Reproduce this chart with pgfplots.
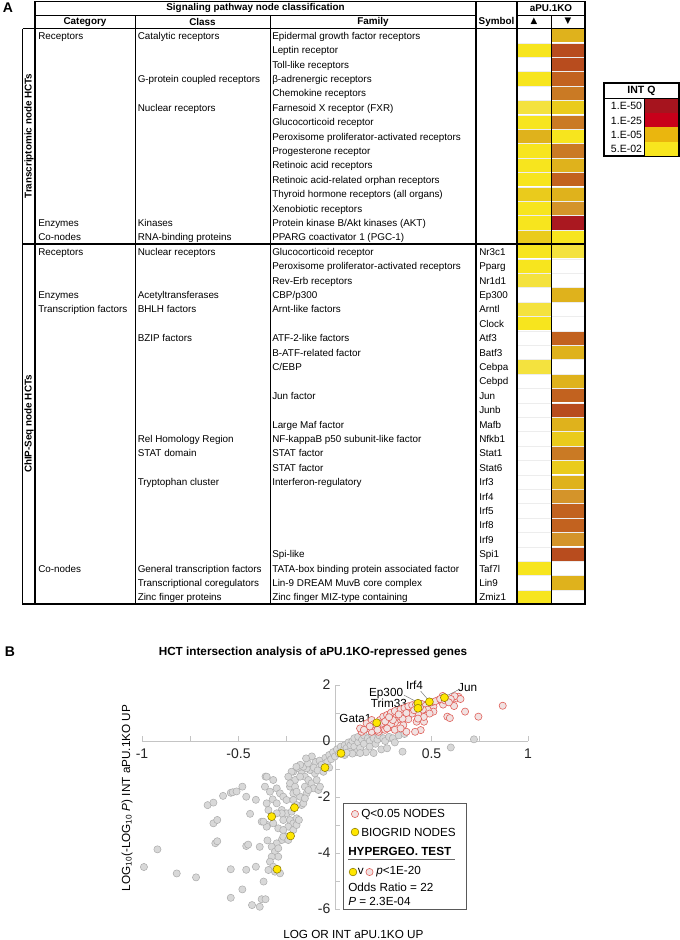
\documentclass[border=0pt]{standalone}
\usepackage{fontspec}
\setmainfont{Liberation Sans}
\newfontfamily\symfont{DejaVu Sans}
\usepackage{pgfplots}
\pgfplotsset{compat=1.18}
\usepackage{pgfplotstable}

\definecolor{cY}{HTML}{F7E51E}
\definecolor{cYL}{HTML}{F4E23E}
\definecolor{cYG}{HTML}{EACB1C}
\definecolor{cG}{HTML}{DFB21C}
\definecolor{cOG}{HTML}{D4942A}
\definecolor{cO}{HTML}{CA7A24}
\definecolor{cR}{HTML}{C2621F}
\definecolor{cRB}{HTML}{B84C1E}
\definecolor{cDR}{HTML}{AA1820}
\definecolor{q50}{HTML}{A6141E}
\definecolor{q25}{HTML}{C8001A}
\definecolor{q05}{HTML}{EAB60E}
\definecolor{q02}{HTML}{F8E61E}
\definecolor{axgray}{HTML}{C4C4C4}
\definecolor{ptgray}{HTML}{D8D8D8}
\definecolor{ptedge}{HTML}{ADADAD}
\definecolor{redfill}{HTML}{F1E2E2}
\definecolor{rededge}{HTML}{E0605A}
\definecolor{yelfill}{HTML}{FFE600}
\definecolor{yeledge}{HTML}{8A7800}

\pgfdeclareplotmark{cell}{\pgfpathrectangle{\pgfqpoint{-12.4pt}{-4.95pt}}{\pgfqpoint{24.8pt}{9.9pt}}\pgfusepathqfill}
\pgfdeclareplotmark{lcell}{\pgfpathrectangle{\pgfqpoint{-12.4pt}{-5.35pt}}{\pgfqpoint{24.8pt}{10.7pt}}\pgfusepathqfill}

\newcommand{\tabfont}{\fontsize{7.4}{8.5}\selectfont}
\newcommand{\legfont}{\fontsize{8.8}{10}\selectfont}
\newcommand{\tx}[3]{\node[anchor=base west,inner sep=0pt,font=\tabfont] at (#1,{24.8+14.4*#2}) {#3};}

% heat map cells: column (1 = up, 2 = down), row, colour class
\pgfplotstableread{
col row c
2 1 G
1 2 Y
2 2 RB
2 3 RB
1 4 Y
2 4 R
2 5 O
1 6 YL
2 6 YG
1 7 Y
2 7 O
1 8 G
2 8 Y
1 9 Y
2 9 O
1 10 Y
2 10 G
1 11 Y
2 11 R
1 12 YG
2 12 G
1 13 Y
2 13 OG
1 14 Y
2 14 DR
1 15 YG
2 15 Y
1 16 Y
2 16 YL
1 17 Y
1 18 YL
2 19 G
1 20 YL
1 21 Y
2 22 R
2 23 G
1 24 YL
2 25 G
2 26 R
2 27 RB
2 28 G
2 29 YG
2 30 O
2 31 YG
2 32 G
2 33 OG
2 34 R
2 35 R
2 36 OG
2 37 RB
1 38 Y
2 39 G
1 40 Y
}\heatdata

\pgfplotstableread{
x y
-0.99 -4.50
-0.92 -3.87
-0.82 -4.73
-0.72 -4.87
-0.66 -2.29
-0.63 -2.20
-0.63 -2.94
-0.61 -2.82
-0.62 -3.65
-0.61 -3.58
-0.58 -1.96
-0.54 -1.85
-0.54 -4.58
-0.53 -1.83
-0.51 -1.80
-0.48 -1.63
-0.46 -1.99
-0.44 -2.60
-0.46 -4.60
-0.46 -3.75
-0.45 -3.70
-0.48 -5.30
-0.54 -5.60
-0.41 -2.10
-0.41 -4.49
-0.39 -3.78
-0.43 -5.86
-0.39 -5.92
-0.38 -5.65
-0.36 -5.65
-0.37 -5.02
-0.38 -2.88
-0.36 -1.27
-0.35 -3.00
-0.35 -3.55
-0.354 -1.274
-0.320 -1.393
-0.363 -1.631
-0.337 -1.810
-0.302 -1.691
-0.285 -1.869
-0.323 -2.083
-0.354 -2.226
-0.345 -2.464
-0.302 -2.226
-0.268 -1.988
-0.251 -2.107
-0.276 -2.464
-0.251 -2.583
-0.225 -2.524
-0.268 -2.822
-0.233 -2.822
-0.216 -2.941
-0.199 -2.762
-0.242 -3.060
-0.276 -2.583
-0.302 -2.583
-0.320 -2.941
-0.354 -3.060
-0.371 -2.881
-0.294 -3.119
-0.268 -3.179
-0.251 -3.417
-0.276 -3.536
-0.302 -3.655
-0.328 -3.774
-0.311 -3.952
-0.294 -4.131
-0.328 -4.131
-0.337 -4.310
-0.320 -4.488
-0.311 -4.667
-0.285 -4.726
-0.345 -4.607
-0.294 -3.833
-0.268 -3.417
-0.242 -3.536
-0.216 -3.179
-0.199 -3.000
-0.187 -2.822
-0.173 -2.286
-0.164 -2.226
-0.181 -1.988
-0.216 -1.869
-0.233 -1.631
-0.207 -1.393
-0.216 -1.095
-0.190 -0.976
-0.173 -1.155
-0.156 -1.274
-0.138 -1.393
-0.121 -1.512
-0.112 -1.691
-0.147 -1.869
-0.156 -2.048
-0.086 -1.750
-0.078 -1.631
-0.095 -1.393
-0.104 -1.155
-0.130 -1.036
-0.147 -0.976
-0.164 -0.917
-0.181 -1.274
-0.156 -1.631
-0.138 -1.750
-0.216 -2.107
-0.199 -2.286
-0.225 -1.095
-0.242 -1.274
-0.233 -1.512
-0.207 -1.631
-0.199 -1.810
-0.10 -0.75
-0.08 -0.70
-0.07 -0.85
-0.05 -0.60
-0.04 -0.75
-0.03 -0.50
-0.02 -0.65
-0.01 -0.40
0.00 -0.55
0.01 -0.30
0.02 -0.45
0.03 -0.20
0.04 -0.35
0.05 -0.15
0.05 -0.50
0.06 -0.25
0.07 -0.05
0.08 -0.35
0.08 -0.15
0.09 0.00
0.10 -0.20
0.10 0.10
0.11 -0.40
0.12 -0.05
0.12 0.15
0.13 -0.25
0.14 0.05
0.15 0.20
0.15 -0.10
0.16 -0.40
0.17 0.10
0.18 0.00
0.18 -0.20
0.19 0.25
0.20 0.10
0.20 -0.43
0.21 -0.10
0.22 0.05
0.23 0.20
0.24 -0.30
0.25 0.10
0.26 0.00
0.27 -0.26
0.28 0.15
0.30 0.10
0.31 -0.05
0.33 0.20
0.35 -0.38
0.36 0.25
0.60 -0.23
0.72 0.06
0.13 -0.43
0.09 -0.45
0.06 -0.42
-0.12 -0.55
-0.14 -0.80
-0.15 -0.62
-0.18 -0.85
-0.20 -0.92
-0.11 -0.95
-0.09 -1.05
-0.06 -1.10
-0.03 -0.95
}\graydata

\pgfplotstableread{
x y
0.869 1.26
0.743 0.87
0.674 1.05
0.582 0.87
0.617 1.25
0.56 1.30
0.64 1.58
0.63 1.52
0.62 1.60
0.60 1.50
0.65 1.50
0.558 1.61
0.535 1.46
0.51 1.23
0.51 1.05
0.461 0.69
0.423 0.69
0.444 0.39
0.415 0.33
0.37 0.33
0.354 0.57
0.323 0.75
0.336 0.88
0.379 0.88
0.389 1.10
0.406 1.22
0.367 1.10
0.354 0.99
0.328 1.04
0.302 0.93
0.285 0.81
0.268 0.63
0.25 0.45
0.285 0.49
0.259 0.40
0.225 0.33
0.19 0.33
0.164 0.45
0.138 0.33
0.130 0.45
0.164 0.63
0.19 0.75
0.207 0.51
0.233 0.75
0.25 0.87
0.27 0.93
0.29 1.01
0.31 1.07
0.34 1.13
0.36 1.18
0.38 1.24
0.40 1.28
0.42 1.30
0.45 1.32
0.47 1.26
0.48 1.12
0.455 1.12
0.50 1.38
0.52 1.42
0.545 1.50
0.57 1.45
0.59 1.38
0.49 0.98
0.46 0.86
0.43 0.96
0.40 0.98
0.38 0.78
0.35 0.80
0.31 0.65
0.29 0.60
0.27 0.45
0.31 0.40
0.34 0.45
0.30 0.75
0.24 0.62
0.22 0.55
0.20 0.60
0.18 0.52
0.15 0.40
0.22 0.40
0.26 0.70
0.28 0.85
0.33 0.95
0.37 1.00
0.41 1.10
0.44 1.20
0.595 0.82
0.43 0.80
}\reddata

\pgfplotstableread{
x y
0.567 1.55
0.489 1.40
0.43 1.35
0.43 1.17
0.216 0.65
0.031 -0.44
-0.052 -0.95
-0.21 -2.38
-0.328 -2.70
-0.23 -3.39
-0.30 -4.58
}\yeldata

\begin{document}
\begin{tikzpicture}
\path[use as bounding box] (0,0) rectangle (510pt,-705pt);

% ---------- heat map cells ----------
\begin{axis}[
  at={(387.75pt,-21.375pt)}, anchor=north west,
  scale only axis, width=51pt, height=432pt,
  xmin=0.5, xmax=2.5, ymin=0.5, ymax=40.5, y dir=reverse,
  hide axis, clip=false]
\addplot[scatter, only marks, mark=cell,
  scatter src=explicit symbolic,
  scatter/classes={
    Y={fill=cY,draw=none}, YL={fill=cYL,draw=none}, YG={fill=cYG,draw=none},
    G={fill=cG,draw=none}, OG={fill=cOG,draw=none}, O={fill=cO,draw=none},
    R={fill=cR,draw=none}, RB={fill=cRB,draw=none}, DR={fill=cDR,draw=none}}]
  table[x=col, y=row, meta=c] {\heatdata};
\end{axis}

% ---------- scatter plot ----------
\begin{axis}[
  at={(251.25pt,-555.75pt)}, anchor=origin,
  scale only axis, width=289.5pt, height=168pt,
  xmin=-1, xmax=1, ymin=-6, ymax=2,
  axis lines=middle,
  axis line style={-, draw=axgray, line width=0.6pt},
  xtick={-1,-0.5,0,0.5,1}, xticklabels={-1,-0.5,0,0.5,1},
  minor xtick={-0.75,-0.25,0.25,0.75},
  ytick={-6,-4,-2,0,2}, yticklabels={-6,-4,-2,0,2},
  minor ytick={-5,-3,-1,1},
  tick style={draw=axgray, line width=0.6pt},
  major tick length=4pt, minor tick length=4pt,
  tick align=inside,
  hide obscured x ticks=false, hide obscured y ticks=false,
  ticklabel style={font=\fontsize{10.5}{12}\selectfont, text=black!85},
  x tick label style={yshift=-2pt},
  clip=false]
\addplot[only marks, mark=*, mark size=2.7pt,
  mark options={fill=ptgray, draw=ptedge, line width=0.4pt}] table[x=x,y=y] {\graydata};
\addplot[only marks, mark=*, mark size=2.7pt,
  mark options={fill=redfill, draw=rededge, line width=0.45pt}] table[x=x,y=y] {\reddata};
\addplot[only marks, mark=*, mark size=3pt,
  mark options={fill=yelfill, draw=yeledge, line width=0.4pt}] table[x=x,y=y] {\yeldata};
% point labels
\draw[gray, line width=0.4pt] (0.575,1.60) -- (0.637,1.82);
\node[anchor=west, inner sep=0pt, font=\legfont] at (0.637,1.92) {Jun};
\draw[gray, line width=0.4pt] (0.444,1.78) -- (0.484,1.46);
\node[inner sep=0pt, font=\legfont] at (0.412,1.98) {Irf4};
\draw[gray, line width=0.4pt] (0.357,1.64) -- (0.423,1.40);
\node[anchor=east, inner sep=0pt, font=\legfont] at (0.354,1.70) {Ep300};
\draw[gray, line width=0.4pt] (0.378,1.29) -- (0.423,1.19);
\node[anchor=east, inner sep=0pt, font=\legfont] at (0.374,1.36) {Trim33};
\draw[gray, line width=0.4pt] (0.195,0.75) -- (0.21,0.68);
\node[anchor=east, inner sep=0pt, font=\legfont] at (0.19,0.80) {Gata1};
\end{axis}

% ---------- frame: table, texts, legends (pixel coordinates) ----------
\begin{axis}[
  at={(0pt,0pt)}, anchor=north west,
  scale only axis, width=510pt, height=705pt,
  xmin=0, xmax=680, ymin=0, ymax=940, y dir=reverse,
  hide axis, clip=false]
% row separators in heat columns
\pgfplotsinvokeforeach{1,...,39}{
  \draw[gray!14, line width=0.5pt] (517.5,{28.5+14.4*#1}) -- (584.5,{28.5+14.4*#1});
}
% table rules
\draw[line width=0.55pt] (135,15) -- (135,604);
\draw[line width=0.55pt] (270,15) -- (270,604);
\draw[line width=0.55pt] (551.5,15) -- (551.5,604);
\draw[line width=0.55pt] (35,15) -- (476,15);
\draw[line width=0.55pt] (517,15) -- (585,15);
\draw[line width=0.8pt] (476,1.5) -- (476,604);
\draw[line width=0.8pt] (22.5,28.5) -- (585,28.5);
\draw[line width=1.1pt, line cap=rect] (35,1.5) -- (585,1.5);
\draw[line width=1.1pt] (22.5,28.5) -- (22.5,604);
\draw[line width=1.1pt] (35,1.5) -- (35,604);
\draw[line width=1.1pt] (517,1.5) -- (517,604);
\draw[line width=1.1pt] (585,1.5) -- (585,604);
\draw[line width=1.1pt] (22.5,244) -- (585,244);
\draw[line width=1.1pt, line cap=rect] (22.5,604) -- (585,604);
% headers
\node[font=\tabfont\bfseries, inner sep=0pt] at (255.5,8.3) {Signaling pathway node classification};
\node[font=\tabfont\bfseries, inner sep=0pt] at (551,8.3) {aPU.1KO};
\node[font=\tabfont\bfseries, inner sep=0pt] at (85,21.8) {Category};
\node[font=\tabfont\bfseries, inner sep=0pt] at (202.5,21.8) {Class};
\node[font=\tabfont\bfseries, inner sep=0pt] at (373,21.8) {Family};
\node[font=\tabfont\bfseries, inner sep=0pt] at (496.5,21.8) {Symbol};
\node[font=\symfont\fontsize{6.5}{7}\selectfont, inner sep=0pt] at (534,21.5) {▲};
\node[font=\symfont\fontsize{6.5}{7}\selectfont, inner sep=0pt] at (568,21.5) {▼};
\node[font=\tabfont\bfseries, rotate=90, inner sep=0pt] at (29,136) {Transcriptomic node HCTs};
\node[font=\tabfont\bfseries, rotate=90, inner sep=0pt] at (29,424) {ChIP-Seq node HCTs};
\node[font=\fontsize{10.5}{12}\selectfont\bfseries, inner sep=0pt] at (8,8) {A};
\node[font=\fontsize{10.5}{12}\selectfont\bfseries, inner sep=0pt] at (10,652) {B};
% table body
\tx{38}{1}{Receptors} \tx{137.5}{1}{Catalytic receptors} \tx{272}{1}{Epidermal growth factor receptors}
\tx{272}{2}{Leptin receptor}
\tx{272}{3}{Toll-like receptors}
\tx{137.5}{4}{G-protein coupled receptors} \tx{272}{4}{β-adrenergic receptors}
\tx{272}{5}{Chemokine receptors}
\tx{137.5}{6}{Nuclear receptors} \tx{272}{6}{Farnesoid X receptor (FXR)}
\tx{272}{7}{Glucocorticoid receptor}
\tx{272}{8}{Peroxisome proliferator-activated receptors}
\tx{272}{9}{Progesterone receptor}
\tx{272}{10}{Retinoic acid receptors}
\tx{272}{11}{Retinoic acid-related orphan receptors}
\tx{272}{12}{Thyroid hormone receptors (all organs)}
\tx{272}{13}{Xenobiotic receptors}
\tx{38}{14}{Enzymes} \tx{137.5}{14}{Kinases} \tx{272}{14}{Protein kinase B/Akt kinases (AKT)}
\tx{38}{15}{Co-nodes} \tx{137.5}{15}{RNA-binding proteins} \tx{272}{15}{PPARG coactivator 1 (PGC-1)}
\tx{38}{16}{Receptors} \tx{137.5}{16}{Nuclear receptors} \tx{272}{16}{Glucocorticoid receptor} \tx{479}{16}{Nr3c1}
\tx{272}{17}{Peroxisome proliferator-activated receptors} \tx{479}{17}{Pparg}
\tx{272}{18}{Rev-Erb receptors} \tx{479}{18}{Nr1d1}
\tx{38}{19}{Enzymes} \tx{137.5}{19}{Acetyltransferases} \tx{272}{19}{CBP/p300} \tx{479}{19}{Ep300}
\tx{38}{20}{Transcription factors} \tx{137.5}{20}{BHLH factors} \tx{272}{20}{Arnt-like factors} \tx{479}{20}{Arntl}
\tx{479}{21}{Clock}
\tx{137.5}{22}{BZIP factors} \tx{272}{22}{ATF-2-like factors} \tx{479}{22}{Atf3}
\tx{272}{23}{B-ATF-related factor} \tx{479}{23}{Batf3}
\tx{272}{24}{C/EBP} \tx{479}{24}{Cebpa}
\tx{479}{25}{Cebpd}
\tx{272}{26}{Jun factor} \tx{479}{26}{Jun}
\tx{479}{27}{Junb}
\tx{272}{28}{Large Maf factor} \tx{479}{28}{Mafb}
\tx{137.5}{29}{Rel Homology Region} \tx{272}{29}{NF-kappaB p50 subunit-like factor} \tx{479}{29}{Nfkb1}
\tx{137.5}{30}{STAT domain} \tx{272}{30}{STAT factor} \tx{479}{30}{Stat1}
\tx{272}{31}{STAT factor} \tx{479}{31}{Stat6}
\tx{137.5}{32}{Tryptophan cluster} \tx{272}{32}{Interferon-regulatory} \tx{479}{32}{Irf3}
\tx{479}{33}{Irf4}
\tx{479}{34}{Irf5}
\tx{479}{35}{Irf8}
\tx{479}{36}{Irf9}
\tx{272}{37}{Spi-like} \tx{479}{37}{Spi1}
\tx{38}{38}{Co-nodes} \tx{137.5}{38}{General transcription factors} \tx{272}{38}{TATA-box binding protein associated factor} \tx{479}{38}{Taf7l}
\tx{137.5}{39}{Transcriptional coregulators} \tx{272}{39}{Lin-9 DREAM MuvB core complex} \tx{479}{39}{Lin9}
\tx{137.5}{40}{Zinc finger proteins} \tx{272}{40}{Zinc finger MIZ-type containing} \tx{479}{40}{Zmiz1}
% INT Q legend
\addplot[only marks, mark=lcell, mark options={fill=q50}] coordinates {(661.5,106.1)};
\addplot[only marks, mark=lcell, mark options={fill=q25}] coordinates {(661.5,120.4)};
\addplot[only marks, mark=lcell, mark options={fill=q05}] coordinates {(661.5,134.6)};
\addplot[only marks, mark=lcell, mark options={fill=q02}] coordinates {(661.5,148.9)};
\draw[line width=0.9pt] (604,83) rectangle (679,156);
\draw[line width=0.6pt] (604,98.5) -- (679,98.5);
\draw[line width=0.6pt] (644,98.5) -- (644,156);
\node[font=\fontsize{7.9}{9}\selectfont\bfseries, inner sep=0pt] at (641.5,91) {INT Q};
\node[font=\fontsize{7.9}{9}\selectfont, inner sep=0pt] at (626.5,106.1) {1.E-50};
\node[font=\fontsize{7.9}{9}\selectfont, inner sep=0pt] at (626.5,120.4) {1.E-25};
\node[font=\fontsize{7.9}{9}\selectfont, inner sep=0pt] at (626.5,134.6) {1.E-05};
\node[font=\fontsize{7.9}{9}\selectfont, inner sep=0pt] at (626.5,148.9) {5.E-02};
% panel B title and axis labels
\node[font=\fontsize{8.8}{10}\selectfont\bfseries, inner sep=0pt] at (313,652) {HCT intersection analysis of aPU.1KO-repressed genes};
\node[font=\legfont, anchor=west, inner sep=0pt] at (283,934) {LOG OR INT aPU.1KO UP};
\node[font=\legfont, rotate=90, inner sep=0pt] at (127,798) {LOG\textsubscript{10}(-LOG\textsubscript{10} \textit{P}) INT aPU.1KO UP};
% panel B legend
\draw[gray!70!black, line width=0.6pt] (343,803) rectangle (466,909);
\addplot[only marks, mark=*, mark size=2.7pt, mark options={fill=redfill, draw=rededge, line width=0.45pt}] coordinates {(355,814) (369.5,872)};
\addplot[only marks, mark=*, mark size=2.9pt, mark options={fill=yelfill, draw=yeledge, line width=0.4pt}] coordinates {(355,832) (353,872)};
\node[font=\legfont, anchor=west, inner sep=0pt] at (361,814) {Q<0.05 NODES};
\node[font=\legfont, anchor=west, inner sep=0pt] at (361,832) {BIOGRID NODES};
\node[font=\legfont\bfseries, anchor=west, inner sep=0pt] at (348,851) {HYPERGEO. TEST};
\draw[gray!80!black, line width=0.5pt] (348,859) -- (455,859);
\node[font=\legfont, anchor=west, inner sep=0pt] at (357.5,871) {v};
\node[font=\legfont, anchor=west, inner sep=0pt] at (376,872) {\textit{p}<1E-20};
\node[font=\legfont, anchor=west, inner sep=0pt] at (348,887) {Odds Ratio = 22};
\node[font=\legfont, anchor=west, inner sep=0pt] at (348,901) {\textit{P} = 2.3E-04};
\end{axis}
\end{tikzpicture}
\end{document}
